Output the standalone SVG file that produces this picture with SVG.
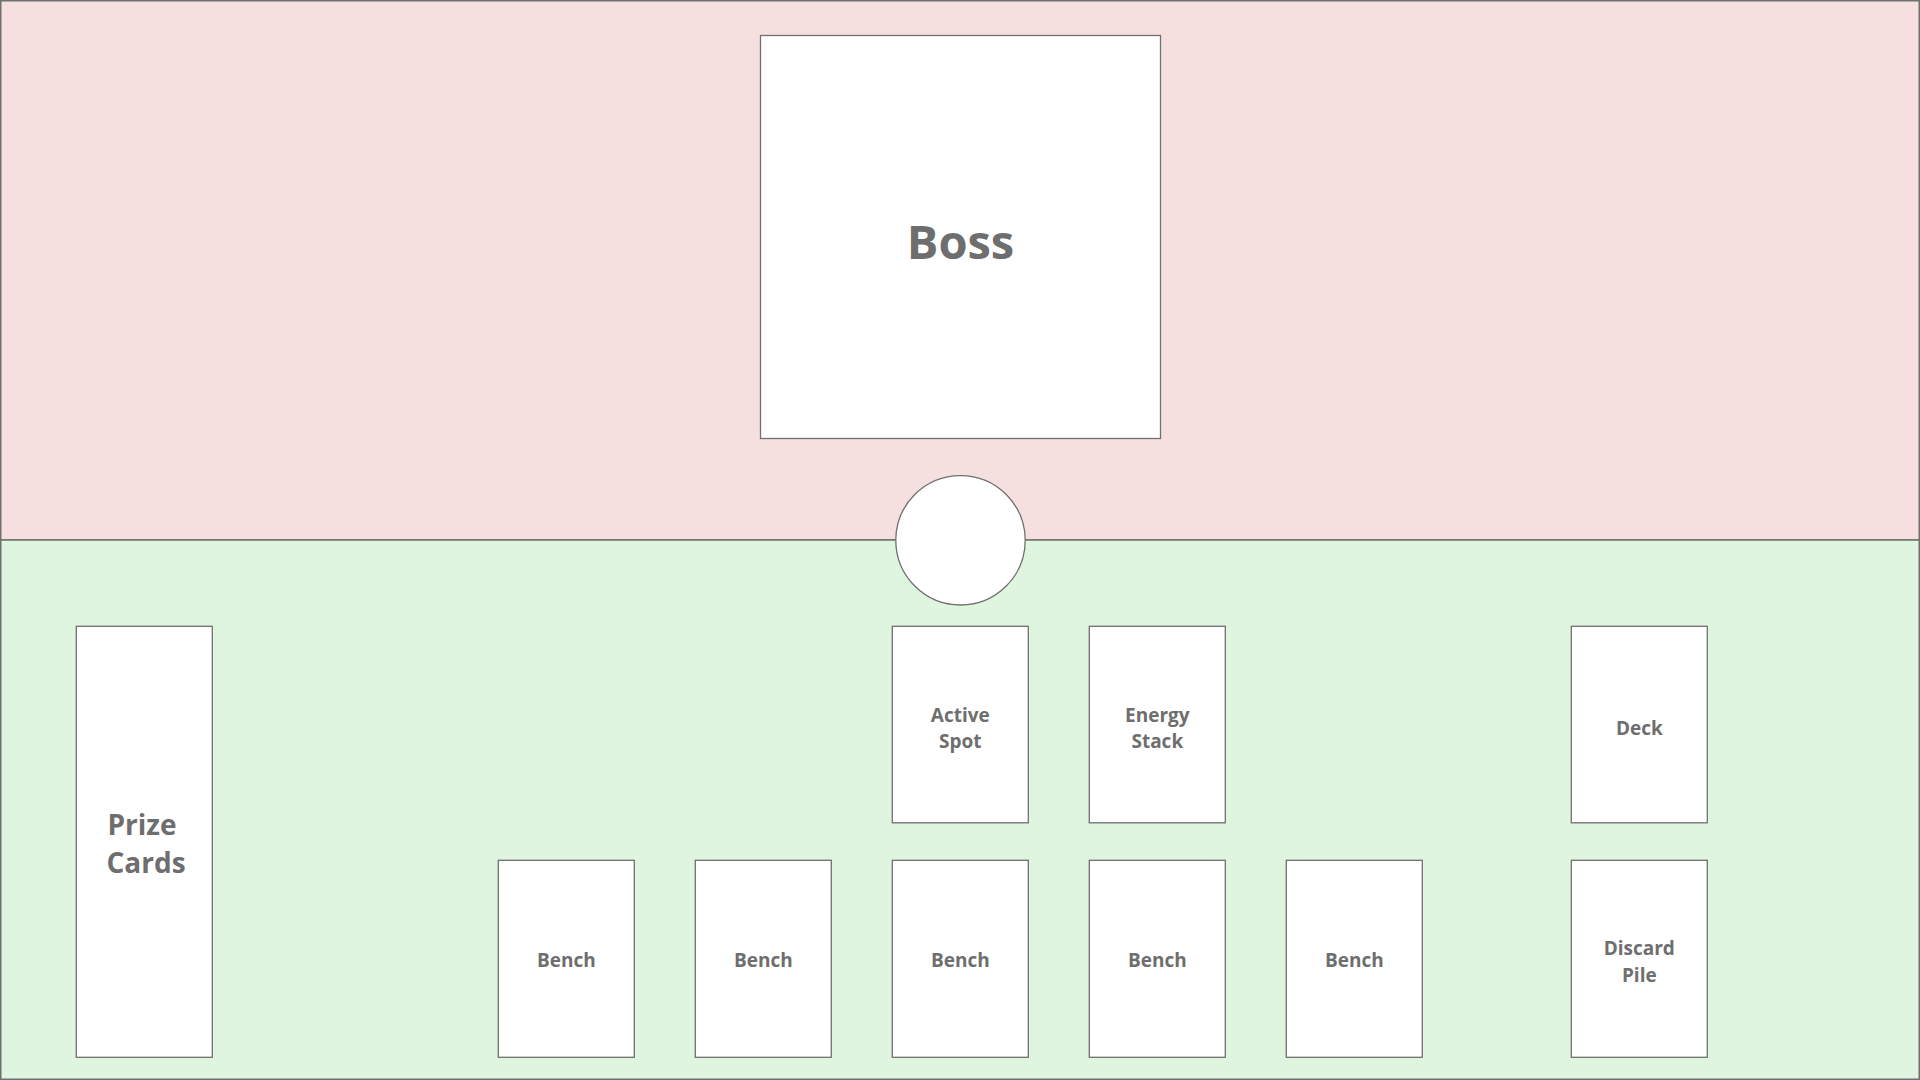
<svg xmlns="http://www.w3.org/2000/svg" width="1920" height="1080" viewBox="0 0 1920 1080">
<style>
.zone{stroke:#707070;stroke-width:1.5}
.card{fill:#ffffff;stroke:#707070;stroke-width:1.3}
.lbl{font-family:"Open Sans","Noto Sans","Liberation Sans",sans-serif;font-weight:700;fill:#6e6e6e;text-anchor:middle;font-size:19px}
.big{font-size:28px;text-anchor:start}
.boss{font-size:47px}
</style>
<g id="opponent-zone"><rect class="zone" x="0.75" y="0.75" width="1918.5" height="539.25" fill="#f5dfdf"/></g>
<g id="player-zone"><rect class="zone" x="0.75" y="540" width="1918.5" height="539.25" fill="#dff5df"/></g>
<g id="boss"><rect class="card" x="760.5" y="35.5" width="400" height="403"/><text class="lbl boss" x="960.5" y="259">Boss</text></g>
<g id="coin"><circle class="card" cx="960.5" cy="540.3" r="64.7"/></g>
<g id="prize-cards"><rect class="card" x="76.3" y="626.3" width="136" height="431"/><text class="lbl big" x="107.5" y="835">Prize</text><text class="lbl big" x="106.5" y="873">Cards</text></g>
<g id="active-spot"><rect class="card" x="892.3" y="626.3" width="136" height="196.5"/><text class="lbl" x="960.3" y="721.5">Active</text><text class="lbl" x="960.3" y="748">Spot</text></g>
<g id="energy-stack"><rect class="card" x="1089.3" y="626.3" width="136" height="196.5"/><text class="lbl" x="1157.3" y="721.5">Energy</text><text class="lbl" x="1157.3" y="748">Stack</text></g>
<g id="deck"><rect class="card" x="1571.3" y="626.3" width="136" height="196.5"/><text class="lbl" x="1639.3" y="735">Deck</text></g>
<g id="bench-1"><rect class="card" x="498.3" y="860.3" width="136" height="197"/><text class="lbl" x="566.3" y="967">Bench</text></g>
<g id="bench-2"><rect class="card" x="695.3" y="860.3" width="136" height="197"/><text class="lbl" x="763.3" y="967">Bench</text></g>
<g id="bench-3"><rect class="card" x="892.3" y="860.3" width="136" height="197"/><text class="lbl" x="960.3" y="967">Bench</text></g>
<g id="bench-4"><rect class="card" x="1089.3" y="860.3" width="136" height="197"/><text class="lbl" x="1157.3" y="967">Bench</text></g>
<g id="bench-5"><rect class="card" x="1286.3" y="860.3" width="136" height="197"/><text class="lbl" x="1354.3" y="967">Bench</text></g>
<g id="discard-pile"><rect class="card" x="1571.3" y="860.3" width="136" height="197"/><text class="lbl" x="1639.3" y="955">Discard</text><text class="lbl" x="1639.3" y="981.5">Pile</text></g>
<g id="connectors"/>
</svg>
